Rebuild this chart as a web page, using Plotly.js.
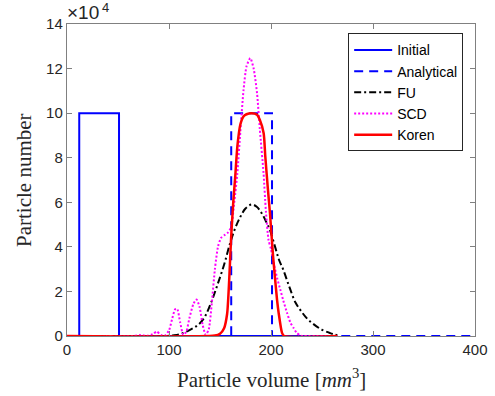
<!DOCTYPE html>
<html>
<head>
<meta charset="utf-8">
<script src="https://cdn.plot.ly/plotly-3.0.1.min.js"></script>
<style>html,body{margin:0;padding:0;background:#fff}#chart{width:495px;height:396px}</style>
</head>
<body>
<div id="chart"></div>
<script>
// ---- data (y values in units of 10^4) ----
const initialX = [0, 12, 12, 51, 51, 265];
const initialY = [0, 0, 10, 10, 0, 0];

const analyticalX = [0, 161, 161, 201, 201, 400];
const analyticalY = [0, 0, 10, 10, 0, 0];

const fuX = [0, 95, 105, 112, 121, 128, 134, 140, 147, 154, 160, 165, 170, 175, 181, 186, 191, 195, 199, 204, 208, 212, 218, 224, 229, 235, 242, 250, 258, 263, 266];
const fuY = [0, 0, 0.03, 0.1, 0.29, 0.48, 0.78, 1.35, 2.23, 3.2, 4.18, 4.85, 5.35, 5.72, 5.9, 5.8, 5.5, 5.15, 4.75, 4.0, 3.4, 2.98, 2.2, 1.5, 1.15, 0.8, 0.52, 0.28, 0.13, 0.06, 0.03];

const scdX = [0, 65, 72, 78, 84, 88, 92, 96, 100, 103, 106, 108, 111, 114, 117, 120, 124, 127, 130, 133, 136, 139, 142, 145, 148, 151, 155, 158, 161, 164, 167, 170, 173, 176, 179.7, 183, 186.3, 189, 192.7, 195, 197.6, 200, 203, 206, 209, 212, 215.7, 219, 222, 225, 229, 232, 265];
const scdY = [0, 0, 0.05, 0, 0.08, 0.2, 0.05, 0.02, 0.25, 0.75, 1.2, 1.22, 0.6, 0.05, 0.2, 0.8, 1.45, 1.64, 1.3, 0.5, 0.05, 0.3, 1.5, 3.0, 4.0, 4.4, 4.55, 4.65, 4.9, 6.0, 7.3, 9.2, 11.0, 12.1, 12.47, 12.0, 10.9, 9.3, 7.3, 5.6, 4.3, 3.9, 3.2, 2.6, 2.1, 1.6, 1.04, 0.6, 0.37, 0.15, 0.02, 0, 0];

const korenX = [0, 145, 150, 154, 157, 159, 161, 163, 165, 167, 170, 173, 176, 181, 186.3, 189, 192.8, 194.4, 197, 199, 202, 205.9, 207.5, 210.8, 213, 265];
const korenY = [0, 0.02, 0.1, 0.35, 1.0, 2.5, 4.5, 6.0, 7.2, 8.5, 9.5, 9.85, 9.95, 10.0, 9.93, 9.7, 9.1, 8.06, 6.57, 5.5, 3.6, 1.63, 1.04, 0.14, 0, 0];

const xTicks = [0, 100, 200, 300, 400];
const yTicks = [0, 2, 4, 6, 8, 10, 12, 14];

const traces = [
  {x: initialX, y: initialY, name: 'Initial', mode: 'lines', line: {color: '#0000ff', width: 2}},
  {x: analyticalX, y: analyticalY, name: 'Analytical', mode: 'lines', line: {color: '#0000ff', width: 2, dash: '9px,6px'}},
  {x: fuX, y: fuY, name: 'FU', mode: 'lines', line: {color: '#000000', width: 2, dash: '7px,3px,2px,3px', shape: 'spline'}},
  {x: scdX, y: scdY, name: 'SCD', mode: 'lines', line: {color: '#ff00ff', width: 2, dash: '2px,2px', shape: 'spline', smoothing: 0.6}},
  {x: korenX, y: korenY, name: 'Koren', mode: 'lines', line: {color: '#ff0000', width: 2.5, shape: 'spline', smoothing: 0.6}}
];

const axisCommon = {
  showgrid: false, zeroline: false, showline: true, mirror: 'allticks',
  linecolor: '#808080', linewidth: 1.2,
  ticks: 'inside', ticklen: 5, tickwidth: 1, tickcolor: '#808080',
  tickfont: {family: 'Liberation Sans, Arial, sans-serif', size: 15, color: '#262626'}
};

const layout = {
  width: 495, height: 396,
  margin: {l: 67, r: 20, t: 24, b: 60},
  paper_bgcolor: '#ffffff', plot_bgcolor: '#ffffff',
  showlegend: true,
  xaxis: Object.assign({}, axisCommon, {range: [0, 400], tickvals: xTicks, ticktext: xTicks.map(String)}),
  yaxis: Object.assign({}, axisCommon, {range: [0, 14], tickvals: yTicks, ticktext: yTicks.map(String)}),
  legend: {
    x: 0.971, y: 0.97, xanchor: 'right', yanchor: 'top',
    bgcolor: '#ffffff', bordercolor: '#262626', borderwidth: 1,
    font: {family: 'Liberation Sans, Arial, sans-serif', size: 14, color: '#000000'},
    itemwidth: 38, tracegroupgap: 0
  },
  annotations: [
    {text: 'Particle volume [<i>mm</i><sup>3</sup>]', xref: 'paper', yref: 'paper', x: 0.5, y: 0, xanchor: 'center', yanchor: 'middle', yshift: -42, showarrow: false,
     font: {family: 'Liberation Serif, Times New Roman, serif', size: 21, color: '#262626'}},
    {text: 'Particle number', xref: 'paper', yref: 'paper', x: 0, y: 0.5, xanchor: 'center', yanchor: 'middle', xshift: -43, textangle: -90, showarrow: false,
     font: {family: 'Liberation Serif, Times New Roman, serif', size: 21, color: '#262626'}},
    {text: '×10', xref: 'paper', yref: 'paper', x: 0, y: 1, xanchor: 'left', yanchor: 'bottom', xshift: -2, yshift: -1, showarrow: false,
     font: {family: 'Liberation Sans, Arial, sans-serif', size: 19, color: '#262626'}},
    {text: '4', xref: 'paper', yref: 'paper', x: 0, y: 1, xanchor: 'left', yanchor: 'bottom', xshift: 33, yshift: 7, showarrow: false,
     font: {family: 'Liberation Sans, Arial, sans-serif', size: 13, color: '#262626'}}
  ]
};

Plotly.newPlot('chart', traces, layout, {displayModeBar: false, staticPlot: true});
</script>
</body>
</html>
